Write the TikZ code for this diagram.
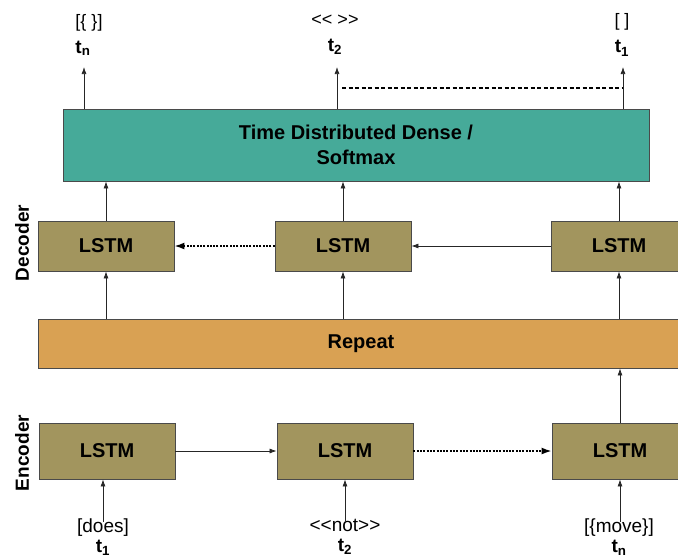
\documentclass[tikz,border=0pt]{standalone}
\usepackage{fontspec}
\setmainfont{Liberation Sans}
\usetikzlibrary{positioning,arrows.meta}

\definecolor{densecol}{HTML}{46AA99}
\definecolor{lstmcol}{HTML}{A2955E}
\definecolor{repcol}{HTML}{D9A153}
\definecolor{edgecol}{HTML}{4A4A4A}

\begin{document}
\begin{tikzpicture}[
    x=1pt, y=-1pt,
    box/.style = {draw=edgecol, line width=0.9pt, inner sep=0pt, font=\fontsize{20}{25}\selectfont\bfseries},
    lstm/.style = {box, fill=lstmcol, minimum width=136pt, minimum height=50pt},
    io/.style = {align=center, inner sep=0pt, font=\fontsize{19}{20}\selectfont},
    top/.style = {io, font=\fontsize{18}{26}\selectfont},
    side/.style = {rotate=90, inner sep=0pt, font=\fontsize{19}{20}\selectfont\bfseries},
    ar/.style = {-{Latex[length=7pt,width=5pt]}, line width=0.7pt, draw=black!85},
    dotar/.style = {-{Latex[length=10pt,width=7pt]}, line width=1.5pt, dash pattern=on 2pt off 1.3pt},
    dashln/.style = {line width=1.8pt, dash pattern=on 4pt off 2.5pt}
]
\useasboundingbox (0,0) rectangle (678,558);
\clip (0,0) rectangle (678,558);

% dense output layer
\node[box, fill=densecol, minimum width=586pt, minimum height=72pt, align=center] (dense) at (356,145) {Time Distributed Dense /\\Softmax};

% decoder
\node[lstm] (dec1) at (106,246) {LSTM};
\node[lstm] (dec2) at (343,246) {LSTM};
\node[lstm] (dec3) at (619,246) {LSTM};
\node[side] (declbl) at (22,243) {Decoder};

\node[box, fill=repcol, minimum width=646pt, minimum height=49pt] (rep) at (361,343.5) {Repeat};

% encoder
\node[lstm, minimum height=56pt] (enc1) at (107,451) {LSTM};
\node[lstm, minimum height=56pt] (enc2) at (345,451) {LSTM};
\node[lstm, minimum height=56pt] (enc3) at (620,451) {LSTM};
\node[side] (enclbl) at (22,453) {Encoder};

% outputs
\node[top, align=left] (outn) at (89,35) {[\{ \}]\\\textbf{\fontsize{19}{20}\selectfont t\textsubscript{n}}};
\node[top] (out2) at (335,35) {<\kern0pt< >\kern0pt>\\\textbf{\fontsize{19}{20}\selectfont t\textsubscript{2}}};
\node[top] (out1) at (622,35) {[ ]\\\textbf{\fontsize{19}{20}\selectfont t\textsubscript{1}}};
\coordinate (on) at (84,67);
\coordinate (o2) at (337,67);
\coordinate (o1) at (623,67);
\coordinate (d2) at (342,88);
\coordinate (d1) at (623,88);

% inputs
\node[io] (in1) at (103,537) {[does]\\\textbf{t\textsubscript{1}}};
\node[io] (in2) at (345,537) {<\kern0pt<not>\kern0pt>\\\textbf{t\textsubscript{2}}};
\node[io] (in3) at (619,537) {[\{move\}]\\\textbf{t\textsubscript{n}}};
\coordinate (i1) at (103,522);
\coordinate (i2) at (345,522);
\coordinate (i3) at (620,522);

\draw[ar] (dense.north -| on) -- (on);
\draw[ar] (dense.north -| o2) -- (o2);
\draw[ar] (dense.north -| o1) -- (o1);
\draw[dashln] (d2) -- (d1);

\draw[ar] (dec1.north) -- (dense.south -| dec1.north);
\draw[ar] (dec2.north) -- (dense.south -| dec2.north);
\draw[ar] (dec3.north) -- (dense.south -| dec3.north);
\draw[ar] (dec3) -- (dec2);
\draw[dotar] (dec2) -- (dec1);

\draw[ar] (rep.north -| dec1.south) -- (dec1.south);
\draw[ar] (rep.north -| dec2.south) -- (dec2.south);
\draw[ar] (rep.north -| dec3.south) -- (dec3.south);

\draw[ar] (enc1) -- (enc2);
\draw[dotar] (enc2) -- (enc3);
\draw[ar] (enc3.north) -- (rep.south -| enc3.north);

\draw[ar] (i1) -- (i1 |- enc1.south);
\draw[ar] (i2) -- (i2 |- enc2.south);
\draw[ar] (i3) -- (i3 |- enc3.south);

\end{tikzpicture}
\end{document}
